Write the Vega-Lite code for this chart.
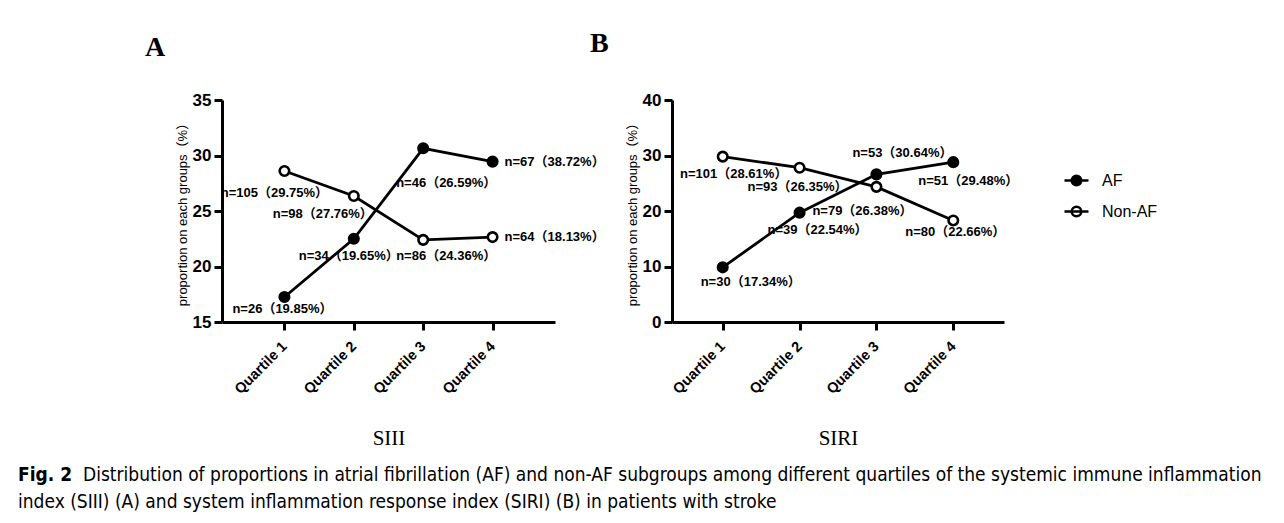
{
  "$schema": "https://vega.github.io/schema/vega-lite/v6.json",
  "padding": {"left": 18, "top": 30, "right": 5, "bottom": 5},
  "background": "white",
  "datasets": {
    "A": [
      {"quartile": "Quartile 1", "group": "AF", "value": 17.25, "label": "n=26（19.85%）"},
      {"quartile": "Quartile 2", "group": "AF", "value": 22.5, "label": "n=34（19.65%）"},
      {"quartile": "Quartile 3", "group": "AF", "value": 30.65, "label": "n=46（26.59%）"},
      {"quartile": "Quartile 4", "group": "AF", "value": 29.45, "label": "n=67（38.72%）"},
      {"quartile": "Quartile 1", "group": "Non-AF", "value": 28.6, "label": "n=105（29.75%）"},
      {"quartile": "Quartile 2", "group": "Non-AF", "value": 26.35, "label": "n=98（27.76%）"},
      {"quartile": "Quartile 3", "group": "Non-AF", "value": 22.4, "label": "n=86（24.36%）"},
      {"quartile": "Quartile 4", "group": "Non-AF", "value": 22.65, "label": "n=64（18.13%）"}
    ],
    "B": [
      {"quartile": "Quartile 1", "group": "AF", "value": 9.85, "label": "n=30（17.34%）"},
      {"quartile": "Quartile 2", "group": "AF", "value": 19.7, "label": "n=39（22.54%）"},
      {"quartile": "Quartile 3", "group": "AF", "value": 26.6, "label": "n=53（30.64%）"},
      {"quartile": "Quartile 4", "group": "AF", "value": 28.8, "label": "n=51（29.48%）"},
      {"quartile": "Quartile 1", "group": "Non-AF", "value": 29.8, "label": "n=101（28.61%）"},
      {"quartile": "Quartile 2", "group": "Non-AF", "value": 27.8, "label": "n=93（26.35%）"},
      {"quartile": "Quartile 3", "group": "Non-AF", "value": 24.35, "label": "n=79（26.38%）"},
      {"quartile": "Quartile 4", "group": "Non-AF", "value": 18.3, "label": "n=80（22.66%）"}
    ]
  },
  "bounds": "flush",
  "title": {
    "text": "Distribution of proportions in atrial fibrillation (AF) and non-AF subgroups among different quartiles of the systemic immune inflammation",
    "orient": "bottom",
    "anchor": "start",
    "frame": "group",
    "dx": -139,
    "offset": -46,
    "baseline": "top",
    "font": "Liberation Sans Narrow, DejaVu Sans Condensed, sans-serif",
    "fontSize": 19,
    "fontWeight": "normal",
    "color": "black"
  },
  "vconcat": [
    {
      "bounds": "flush",
      "spacing": 117,
      "resolve": {"scale": {"x": "independent", "y": "independent", "fill": "independent"}},
      "title": {
        "text": "Fig. 2",
        "subtitle": "index (SIII) (A) and system inflammation response index (SIRI) (B) in patients with stroke",
        "orient": "bottom",
        "anchor": "start",
        "frame": "group",
        "dx": -204,
        "offset": 17,
        "baseline": "top",
        "font": "Liberation Sans Narrow, DejaVu Sans Condensed, sans-serif",
        "fontSize": 19,
        "fontWeight": "bold",
        "color": "black",
        "subtitleFont": "Liberation Sans Narrow, DejaVu Sans Condensed, sans-serif",
        "subtitleFontSize": 19,
        "subtitleFontWeight": "normal",
        "subtitleColor": "black",
        "subtitlePadding": 8
      },
      "hconcat": [
        {
          "width": 333,
          "height": 222,
          "data": {"name": "A"},
          "title": {"text": "A", "anchor": "start", "frame": "group", "dx": -77, "font": "Liberation Serif", "fontSize": 28, "fontWeight": "bold", "offset": 7, "baseline": "alphabetic", "color": "black"},
          "encoding": {
            "x": {"field": "quartile", "type": "ordinal", "scale": {"type": "point", "padding": 0.9}, "axis": {"title": "SIII"}},
            "y": {"field": "value", "type": "quantitative", "scale": {"domain": [15, 35], "nice": false, "zero": false}, "axis": {"values": [15, 20, 25, 30, 35], "title": "proportion on each groups（%）"}}
          },
          "layer": [
            {"mark": {"type": "line", "color": "black", "strokeWidth": 2.8}, "encoding": {"detail": {"field": "group"}}},
            {"mark": {"type": "circle", "size": 90, "opacity": 1, "stroke": "black", "strokeWidth": 2.6}, "encoding": {"fill": {"field": "group", "type": "nominal", "scale": {"domain": ["AF", "Non-AF"], "range": ["black", "white"]}, "legend": null}}},
            {"transform": [{"filter": "datum.group == 'AF' && datum.quartile == 'Quartile 1'"}], "mark": {"type": "text", "fontWeight": "bold", "fontSize": 13, "color": "black", "dx": -2, "dy": 12}, "encoding": {"text": {"field": "label"}}},
            {"transform": [{"filter": "datum.group == 'AF' && datum.quartile == 'Quartile 2'"}], "mark": {"type": "text", "fontWeight": "bold", "fontSize": 13, "color": "black", "dx": -5, "dy": 17}, "encoding": {"text": {"field": "label"}}},
            {"transform": [{"filter": "datum.group == 'AF' && datum.quartile == 'Quartile 3'"}], "mark": {"type": "text", "fontWeight": "bold", "fontSize": 13, "color": "black", "dx": 23, "dy": 35}, "encoding": {"text": {"field": "label"}}},
            {"transform": [{"filter": "datum.group == 'AF' && datum.quartile == 'Quartile 4'"}], "mark": {"type": "text", "fontWeight": "bold", "fontSize": 13, "color": "black", "align": "left", "dx": 12, "dy": 0}, "encoding": {"text": {"field": "label"}}},
            {"transform": [{"filter": "datum.group == 'Non-AF' && datum.quartile == 'Quartile 1'"}], "mark": {"type": "text", "fontWeight": "bold", "fontSize": 13, "color": "black", "dx": -10, "dy": 22}, "encoding": {"text": {"field": "label"}}},
            {"transform": [{"filter": "datum.group == 'Non-AF' && datum.quartile == 'Quartile 2'"}], "mark": {"type": "text", "fontWeight": "bold", "fontSize": 13, "color": "black", "dx": -31, "dy": 18}, "encoding": {"text": {"field": "label"}}},
            {"transform": [{"filter": "datum.group == 'Non-AF' && datum.quartile == 'Quartile 3'"}], "mark": {"type": "text", "fontWeight": "bold", "fontSize": 13, "color": "black", "dx": 23, "dy": 16}, "encoding": {"text": {"field": "label"}}},
            {"transform": [{"filter": "datum.group == 'Non-AF' && datum.quartile == 'Quartile 4'"}], "mark": {"type": "text", "fontWeight": "bold", "fontSize": 13, "color": "black", "align": "left", "dx": 12, "dy": 0}, "encoding": {"text": {"field": "label"}}}
          ]
        },
        {
          "width": 332,
          "height": 222,
          "data": {"name": "B"},
          "title": {"text": "B", "anchor": "start", "frame": "group", "dx": -82, "font": "Liberation Serif", "fontSize": 28, "fontWeight": "bold", "offset": 11, "baseline": "alphabetic", "color": "black"},
          "encoding": {
            "x": {"field": "quartile", "type": "ordinal", "scale": {"type": "point", "padding": 0.66}, "axis": {"title": "SIRI"}},
            "y": {"field": "value", "type": "quantitative", "scale": {"domain": [0, 40], "nice": false}, "axis": {"values": [0, 10, 20, 30, 40], "title": "proportion on each groups（%）"}}
          },
          "layer": [
            {"mark": {"type": "line", "color": "black", "strokeWidth": 2.8}, "encoding": {"detail": {"field": "group"}}},
            {"mark": {"type": "circle", "size": 90, "opacity": 1, "stroke": "black", "strokeWidth": 2.6}, "encoding": {"fill": {"field": "group", "type": "nominal", "scale": {"domain": ["AF", "Non-AF"], "range": ["black", "white"]}, "legend": {"orient": "none", "legendX": 391, "legendY": 67, "title": null}}}},
            {"transform": [{"filter": "datum.group == 'AF' && datum.quartile == 'Quartile 1'"}], "mark": {"type": "text", "fontWeight": "bold", "fontSize": 13, "color": "black", "dx": 28, "dy": 15}, "encoding": {"text": {"field": "label"}}},
            {"transform": [{"filter": "datum.group == 'AF' && datum.quartile == 'Quartile 2'"}], "mark": {"type": "text", "fontWeight": "bold", "fontSize": 13, "color": "black", "dx": 18, "dy": 17}, "encoding": {"text": {"field": "label"}}},
            {"transform": [{"filter": "datum.group == 'AF' && datum.quartile == 'Quartile 3'"}], "mark": {"type": "text", "fontWeight": "bold", "fontSize": 13, "color": "black", "dx": 26, "dy": -21}, "encoding": {"text": {"field": "label"}}},
            {"transform": [{"filter": "datum.group == 'AF' && datum.quartile == 'Quartile 4'"}], "mark": {"type": "text", "fontWeight": "bold", "fontSize": 13, "color": "black", "dx": 15, "dy": 19}, "encoding": {"text": {"field": "label"}}},
            {"transform": [{"filter": "datum.group == 'Non-AF' && datum.quartile == 'Quartile 1'"}], "mark": {"type": "text", "fontWeight": "bold", "fontSize": 13, "color": "black", "dx": 11, "dy": 17}, "encoding": {"text": {"field": "label"}}},
            {"transform": [{"filter": "datum.group == 'Non-AF' && datum.quartile == 'Quartile 2'"}], "mark": {"type": "text", "fontWeight": "bold", "fontSize": 13, "color": "black", "dx": -2, "dy": 19}, "encoding": {"text": {"field": "label"}}},
            {"transform": [{"filter": "datum.group == 'Non-AF' && datum.quartile == 'Quartile 3'"}], "mark": {"type": "text", "fontWeight": "bold", "fontSize": 13, "color": "black", "dx": -14, "dy": 24}, "encoding": {"text": {"field": "label"}}},
            {"transform": [{"filter": "datum.group == 'Non-AF' && datum.quartile == 'Quartile 4'"}], "mark": {"type": "text", "fontWeight": "bold", "fontSize": 13, "color": "black", "dx": 2, "dy": 12}, "encoding": {"text": {"field": "label"}}}
          ]
        }
      ]
    }
  ],
  "config": {
    "view": {"stroke": null},
    "font": "Liberation Sans, Noto Sans CJK SC, sans-serif",
    "text": {"font": "Liberation Sans, Noto Sans CJK SC, sans-serif"},
    "axis": {"grid": false, "domainColor": "black", "domainWidth": 3, "tickColor": "black", "tickWidth": 3, "tickSize": 8, "labelColor": "black", "titleColor": "black", "labelFont": "Liberation Sans", "labelFontWeight": "bold"},
    "axisX": {"labelFontSize": 14.5, "labelAngle": -45, "labelAlign": "right", "labelBaseline": "middle", "labelPadding": 14, "titleFont": "Liberation Serif", "titleFontSize": 21, "titleFontWeight": "normal", "titlePadding": 32},
    "axisY": {"labelFontSize": 17, "labelPadding": 3, "titleFont": "Liberation Sans, Noto Sans CJK SC, sans-serif", "titleFontSize": 13, "titleFontWeight": "normal", "titlePadding": 3},
    "legend": {
      "symbolType": "M-1,0L1,0M-0.4,0A0.4,0.4,0,1,0,0.4,0A0.4,0.4,0,1,0,-0.4,0",
      "symbolSize": 576,
      "symbolStrokeColor": "black",
      "symbolStrokeWidth": 2.5,
      "labelFont": "Liberation Sans",
      "labelFontSize": 16,
      "labelColor": "black",
      "labelOffset": 12,
      "rowPadding": 7
    }
  }
}
